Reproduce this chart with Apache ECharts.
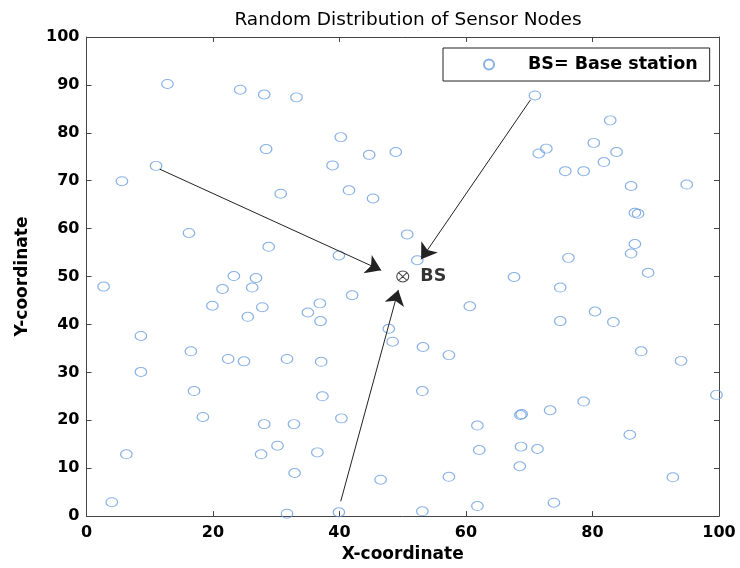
<!DOCTYPE html>
<html>
<head>
<meta charset="utf-8">
<script src="https://cdn.jsdelivr.net/npm/echarts@6/dist/echarts.min.js"></script>
<style>html,body{margin:0;padding:0;background:#fff}#c{width:740px;height:568px}</style>
</head>
<body>
<div id="c"></div>
<script>
var titleText = 'Random Distribution of Sensor Nodes';
var xName = 'X-coordinate';
var yName = 'Y-coordinate';
var legendName = 'BS= Base station';

var nodesX = [12.8,24.3,28.1,33.2,28.4,11.0,5.6,30.7,40.2,44.7,48.9,38.9,41.5,45.3,70.9,82.8,71.5,72.7,80.2,83.8,
  81.8,75.7,78.6,86.1,94.9,16.2,28.8,2.7,23.3,26.8,21.5,26.2,19.9,27.8,25.5,8.6,16.5,22.4,24.9,31.7,
  50.7,39.9,52.3,67.6,42.0,36.9,35.0,37.0,60.6,47.8,48.4,53.2,57.3,37.1,86.7,87.2,86.7,86.1,76.2,88.8,
  74.9,80.4,74.9,83.3,87.7,94.0,8.6,17.0,18.4,28.1,32.8,30.2,27.6,32.9,6.3,4.0,31.7,37.3,40.3,53.1,
  61.8,62.1,36.5,46.5,57.3,61.8,39.9,53.1,99.6,78.6,73.3,68.6,68.8,85.9,68.7,71.3,68.5,92.7,73.9];
var nodesY = [90.2,89.0,88.0,87.4,76.6,73.1,69.9,67.3,79.1,75.4,76.0,73.2,68.0,66.3,87.8,82.6,75.7,76.7,77.9,76.0,
  73.9,72.0,72.0,68.9,69.2,59.1,56.2,47.9,50.1,49.7,47.4,47.7,43.9,43.6,41.6,37.6,34.4,32.8,32.3,32.8,
  58.8,54.4,53.4,49.9,46.1,44.4,42.5,40.7,43.8,39.1,36.4,35.3,33.6,32.2,63.3,63.1,56.8,54.8,53.9,50.8,
  47.7,42.7,40.7,40.5,34.4,32.4,30.1,26.1,20.7,19.2,19.2,14.7,12.9,9.0,12.9,2.9,0.5,25.0,20.4,26.1,
  18.9,13.8,13.3,7.6,8.2,2.1,0.8,1.0,25.3,23.9,22.1,21.1,21.3,17.0,14.5,14.0,10.4,8.1,2.8];

var bsPoint = [50, 50];
var bsLabel = 'BS';
var arrowFrom = [[11.6, 72.4], [70.2, 86.9], [40.2, 3.1]];
var arrowTo = [[46.6, 51.3], [52.9, 53.6], [49.3, 47.2]];

var xMin = 0, xMax = 100, xStep = 20;
var yMin = 0, yMax = 100, yStep = 10;

var FONT = 'DejaVu Sans';
var nodeColor = '#6a9de0';

var nodeData = nodesX.map(function (x, i) { return [x, nodesY[i]]; });
var arrowData = arrowFrom.map(function (p, i) { return { coords: [p, arrowTo[i]] }; });

function axisBase(pos, isX, show) {
  return {
    type: 'value', position: pos,
    min: isX ? xMin : yMin, max: isX ? xMax : yMax, interval: isX ? xStep : yStep,
    axisLine: { show: true, onZero: false, lineStyle: { color: '#444', width: 1 } },
    axisTick: { show: true, inside: true, length: 5, lineStyle: { color: '#444' } },
    splitLine: { show: false },
    axisLabel: { show: show, color: '#000', fontFamily: FONT, fontSize: 16, fontWeight: 'bold', margin: isX ? 9 : 7 }
  };
}

var xA = axisBase('bottom', true, true);
xA.name = xName; xA.nameLocation = 'middle'; xA.nameGap = 26;
xA.nameTextStyle = { color: '#000', fontFamily: FONT, fontSize: 17, fontWeight: 'bold' };
var xTop = axisBase('top', true, false);
var yA = axisBase('left', false, true);
yA.name = yName; yA.nameLocation = 'middle'; yA.nameGap = 55; yA.nameRotate = 90;
yA.nameTextStyle = { color: '#000', fontFamily: FONT, fontSize: 17, fontWeight: 'bold' };
var yRight = axisBase('right', false, false);

var chart = echarts.init(document.getElementById('c'), null, { renderer: 'canvas' });
chart.setOption({
  animation: false,
  backgroundColor: '#fff',
  title: {
    text: titleText, left: 403, top: 6, textAlign: 'center',
    textStyle: { color: '#000', fontFamily: FONT, fontSize: 18.5, fontWeight: 'normal' }
  },
  grid: { left: 86.5, right: 21, top: 37, bottom: 49, containLabel: false },
  legend: {
    left: 443, top: 48,
    padding: [7, 12, 7, 40],
    borderColor: '#222', borderWidth: 1, backgroundColor: '#fff',
    itemWidth: 12, itemHeight: 10,
    data: [legendName],
    textStyle: { color: '#000', fontFamily: FONT, fontSize: 17.5, fontWeight: 'bold', padding: [0, 0, 0, 28], lineHeight: 19 }
  },
  xAxis: [xA, xTop],
  yAxis: [yA, yRight],
  series: [
    {
      name: legendName, type: 'scatter', data: nodeData,
      symbol: 'circle', symbolSize: [11.5, 9],
      itemStyle: { color: 'rgba(255,255,255,0)', borderColor: nodeColor, borderWidth: 1.1 },
      z: 3
    },
    {
      type: 'lines', coordinateSystem: 'cartesian2d', data: arrowData,
      symbol: ['none', 'arrow'], symbolSize: [0, 15],
      lineStyle: { color: '#222', width: 1, opacity: 1 },
      z: 4
    },
    {
      type: 'scatter', data: [bsPoint],
      symbol: 'path://M12,6A6,6 0 1 1 0,6A6,6 0 1 1 12,6ZM2,2L10,10M10,2L2,10',
      symbolSize: [12, 11],
      itemStyle: { color: 'none', borderColor: '#111', borderWidth: 1 },
      label: { show: true, position: 'right', distance: 9, formatter: bsLabel, color: '#000', fontFamily: FONT, fontSize: 17.5, fontWeight: 'bold' },
      z: 5
    }
  ]
});
</script>
</body>
</html>
